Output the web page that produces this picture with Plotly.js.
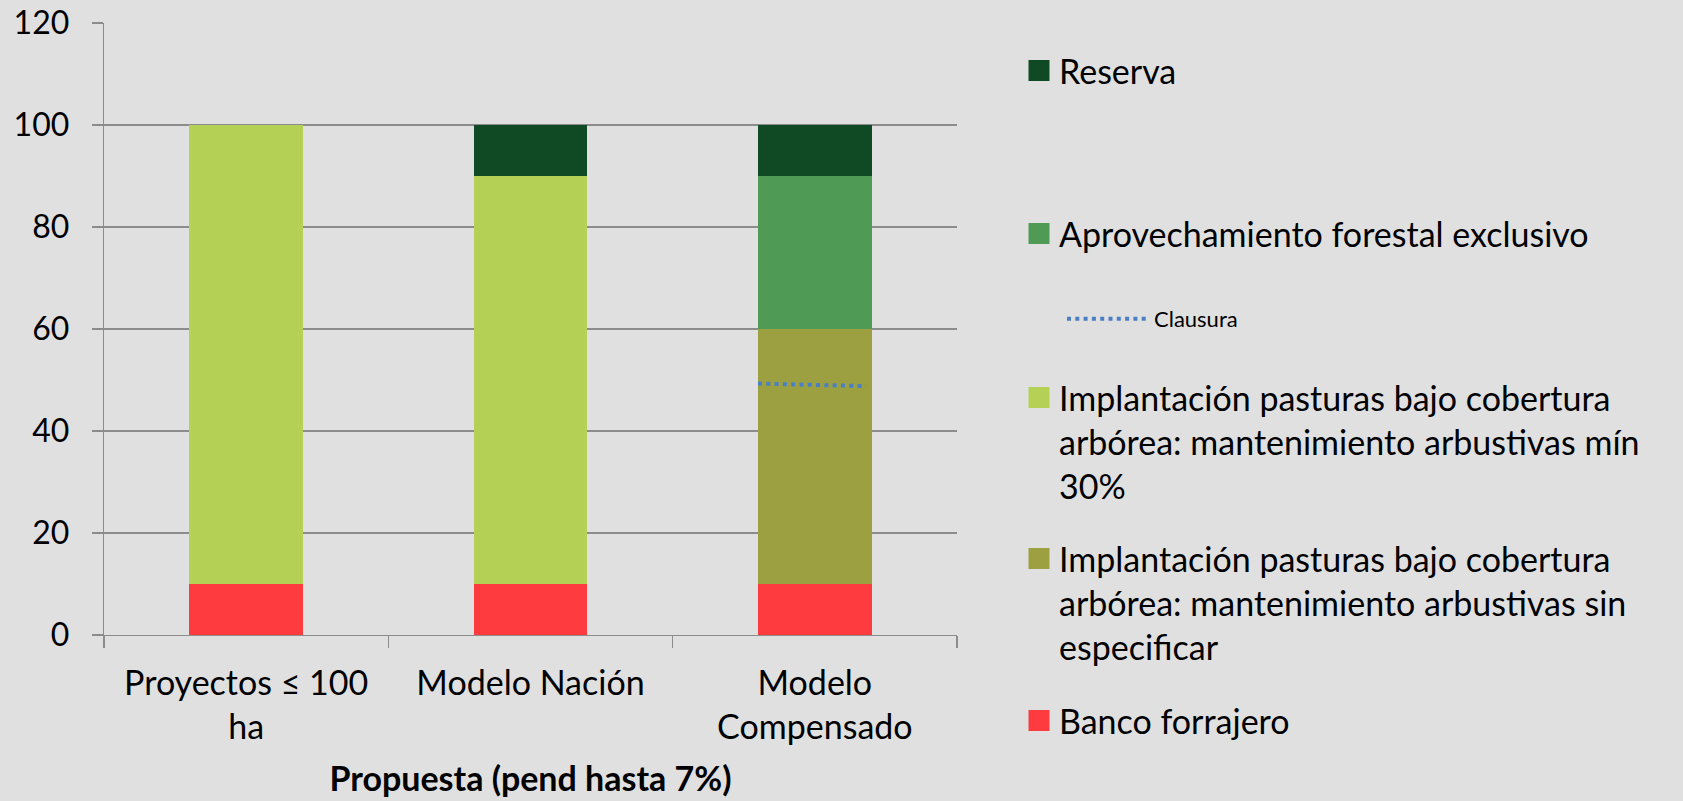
<!DOCTYPE html>
<html>
<head>
<meta charset="utf-8">
<script src="https://cdn.plot.ly/plotly-3.0.1.min.js"></script>
<style>
  html, body { margin: 0; padding: 0; background: #e0e0e0; }
  #chart { width: 1683px; height: 801px; }
</style>
</head>
<body>
<div id="chart"></div>
<script>
// ---- data ----
const categories = ["Proyectos ≤ 100<br>ha", "Modelo Nación", "Modelo<br>Compensado"];
const bancoForrajero = [10, 10, 10];
const implantMin30 = [90, 80, 0];
const implantSinEsp = [0, 0, 50];
const aprovForestal = [0, 0, 30];
const reserva = [0, 10, 10];
const clausuraX = [1.8, 2.18];
const clausuraY = [49.3, 48.8];

const names = {
  reserva: "Reserva",
  aprov: "Aprovechamiento forestal exclusivo",
  clausura: "Clausura",
  min: "Implantación pasturas bajo cobertura<br>arbórea: mantenimiento arbustivas mín<br>30%",
  sin: "Implantación pasturas bajo cobertura<br>arbórea: mantenimiento arbustivas sin<br>especificar",
  banco: "Banco forrajero"
};
const colors = {
  reserva: "#104a25",
  aprov: "#4f9b56",
  min: "#b5d155",
  sin: "#9ca040",
  banco: "#fe3c40",
  clausura: "#4a7fc5"
};

const FONT = "Lato, 'Open Sans', sans-serif";

function barTrace(y, key) {
  return {type: "bar", x: categories, y: y, name: names[key], showlegend: false,
          marker: {color: colors[key], line: {width: 0}}, hoverinfo: "y+name"};
}
function proxy(key, legendId) {
  return {type: "scatter", mode: "markers", x: [null], y: [null], name: names[key],
          legend: legendId, showlegend: true,
          marker: {symbol: "square", size: 16, color: colors[key], line: {width: 5, color: colors[key]}}};
}

const traces = [
  barTrace(bancoForrajero, "banco"),
  barTrace(implantMin30, "min"),
  barTrace(implantSinEsp, "sin"),
  barTrace(aprovForestal, "aprov"),
  barTrace(reserva, "reserva"),
  {type: "scatter", mode: "lines", x: clausuraX, y: clausuraY, xaxis: "x2", name: names.clausura,
   legend: "legend3", showlegend: true,
   line: {color: colors.clausura, width: 4, dash: "4px,4.3px"}},
  proxy("reserva", "legend"),
  proxy("aprov", "legend2"),
  proxy("min", "legend4"),
  proxy("sin", "legend5"),
  proxy("banco", "legend6")
];

const W = 1683, H = 801;
function leg(px, py, size, extra) {
  return Object.assign({
    xref: "container", yref: "container",
    x: px / W, y: 1 - py / H, xanchor: "left", yanchor: "middle",
    bgcolor: "rgba(0,0,0,0)", borderwidth: 0, valign: "top",
    font: {family: FONT, size: size, color: "#000"}
  }, extra || {});
}

const gridCol = "#8c8c8c";
const LF = 34;
const layout = {
  width: W, height: H,
  paper_bgcolor: "#e0e0e0", plot_bgcolor: "#e0e0e0",
  margin: {l: 104, r: 726, t: 23, b: 166},
  barmode: "stack", bargap: 0.6,
  font: {family: FONT, size: 32, color: "#000"},
  xaxis: {
    type: "category", showgrid: false, showline: true, linecolor: gridCol, linewidth: 1.3,
    ticks: "outside", tickson: "boundaries", ticklen: 12, tickcolor: gridCol, tickwidth: 1.3,
    tickfont: {family: FONT, size: 34, color: "#000"},
    ticklabelstandoff: 18,
    title: {text: "<b>Propuesta (pend hasta 7%)</b>", font: {family: FONT, size: 34, color: "#000"}, standoff: 22}
  },
  xaxis2: {overlaying: "x", range: [-0.5, 2.5], visible: false, fixedrange: true},
  yaxis: {
    range: [0, 120], dtick: 20, showgrid: true, gridcolor: gridCol, gridwidth: 1.3,
    showline: true, linecolor: gridCol, linewidth: 1.3, zeroline: false,
    ticks: "outside", ticklen: 11, tickcolor: gridCol, tickwidth: 1.3,
    tickfont: {family: FONT, size: 32, color: "#000"}, ticklabelstandoff: 16
  },
  legend: leg(1019, 71, LF),
  legend2: leg(1019, 234, LF),
  legend3: leg(1062, 319, 22, {itemwidth: 82}),
  legend4: leg(1019, 442, LF),
  legend5: leg(1019, 603, LF),
  legend6: leg(1019, 721, LF)
};

Plotly.newPlot("chart", traces, layout, {displayModeBar: false, staticPlot: true});
</script>
</body>
</html>
